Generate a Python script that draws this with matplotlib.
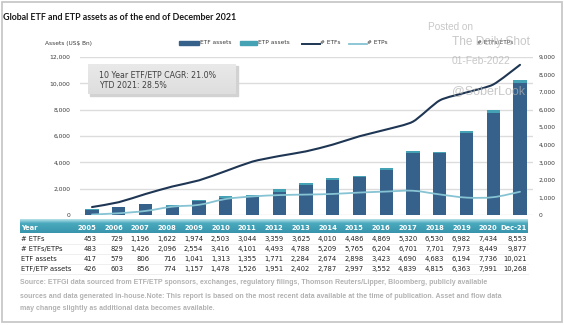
import numpy as np
import matplotlib
matplotlib.use("Agg")
import matplotlib.pyplot as plt
import matplotlib.transforms as mtransforms
from matplotlib.patches import Rectangle, PathPatch
from matplotlib.path import Path
from matplotlib.lines import Line2D

# ---- data -------------------------------------------------------------
years = ["2005", "2006", "2007", "2008", "2009", "2010", "2011", "2012", "2013",
         "2014", "2015", "2016", "2017", "2018", "2019", "2020", "Dec-21"]
n_etfs = [453, 729, 1196, 1622, 1974, 2503, 3044, 3359, 3625, 4010, 4486,
          4869, 5320, 6530, 6982, 7434, 8553]
n_etfs_etps = [483, 829, 1426, 2096, 2554, 3416, 4101, 4493, 4788, 5209, 5765,
               6204, 6701, 7701, 7973, 8449, 9877]
etf_assets = [417, 579, 806, 716, 1041, 1313, 1355, 1771, 2284, 2674, 2898,
              3423, 4690, 4683, 6194, 7736, 10021]
etf_etp_assets = [426, 603, 856, 774, 1157, 1478, 1526, 1951, 2402, 2787, 2997,
                  3552, 4839, 4815, 6363, 7991, 10268]
assets_ticks = [0, 2000, 4000, 6000, 8000, 10000, 12000]
count_ticks = [0, 1000, 2000, 3000, 4000, 5000, 6000, 7000, 8000, 9000]

row_labels = ["# ETFs", "# ETFs/ETPs", "ETF assets", "ETF/ETP assets"]
table_rows = [n_etfs, n_etfs_etps, etf_assets, etf_etp_assets]

etp_assets = np.array(etf_etp_assets) - np.array(etf_assets)
n_etps = np.array(n_etfs_etps) - np.array(n_etfs)
x = np.arange(len(years))

# ---- colours ----------------------------------------------------------
C_ETF = "#35618a"
C_ETP = "#45a1b4"
C_LINE_ETF = "#1e3653"
C_LINE_ETP = "#86c3d3"
C_GRID = "#dcdcdc"
C_TXT = "#3a3a3a"

W, H = 564, 325
fig = plt.figure(figsize=(W / 100, H / 100), dpi=100)
fig.patch.set_facecolor("white")


def fx(px):
    return px / W


def fy(py):
    return 1 - py / H


# ---- main chart -------------------------------------------------------
ax = fig.add_axes([fx(80), fy(215), fx(533) - fx(80), fy(57) - fy(215)])
ax.set_xlim(-0.449, 16.486)
ax.set_ylim(0, 12000)
ax.bar(x, etf_assets, width=0.5, color=C_ETF, zorder=2)
ax.bar(x, etp_assets, width=0.5, bottom=etf_assets, color=C_ETP, zorder=2)
ax.set_yticks(assets_ticks)
ax.set_yticklabels([f"{v:,}" for v in assets_ticks])
ax.yaxis.grid(True, color=C_GRID, lw=1.0)
ax.set_axisbelow(True)
ax.set_xticks([])
for s in ax.spines.values():
    s.set_visible(False)
ax.tick_params(axis="y", length=0, pad=7, labelsize=4.3, labelcolor=C_TXT)
ax.patch.set_alpha(0)

ax2 = ax.twinx()
ax2.set_ylim(0, 9000)
ax2.set_yticks(count_ticks)
ax2.set_yticklabels([f"{v:,}" for v in count_ticks])
for s in ax2.spines.values():
    s.set_visible(False)
ax2.tick_params(axis="y", length=0, pad=4, labelsize=4.3, labelcolor=C_TXT)


def smooth_path(xs, ys, tension=1 / 6):
    pts = np.column_stack([xs, ys]).astype(float)
    verts = [pts[0]]
    codes = [Path.MOVETO]
    for i in range(len(pts) - 1):
        p0 = pts[i - 1] if i > 0 else pts[i]
        p1, p2 = pts[i], pts[i + 1]
        p3 = pts[i + 2] if i + 2 < len(pts) else pts[i + 1]
        verts += [p1 + (p2 - p0) * tension, p2 - (p3 - p1) * tension, p2]
        codes += [Path.CURVE4] * 3
    return Path(verts, codes)


ax2.add_patch(PathPatch(smooth_path(x, n_etfs, 1 / 9), fill=False, edgecolor=C_LINE_ETF,
                        lw=1.5, zorder=4, capstyle="round"))
ax2.add_patch(PathPatch(smooth_path(x, n_etps), fill=False, edgecolor=C_LINE_ETP,
                        lw=1.3, zorder=4, capstyle="round"))

# ---- overlay in pixel coordinates ------------------------------------
ov = fig.add_axes([0, 0, 1, 1])
ov.set_xlim(0, W)
ov.set_ylim(H, 0)
ov.axis("off")
ov.patch.set_alpha(0)

# outer frame
ov.add_patch(Rectangle((1.5, 1.5), 560.5, 320.5, fill=False, edgecolor="#c4c4c4", lw=1.2))

title = ov.text(3, 17, "Global ETF and ETP assets as of the end of December 2021",
                fontsize=7.5, fontweight="bold", family="Lato", color="#1a1a1a",
                va="center")
# fit the title to its line width
fig.canvas.draw()
tw = title.get_window_extent().width
title.set_fontsize(7.5 * 234 / tw)

ov.text(45, 43, "Assets (US$ Bn)", fontsize=4.2, color=C_TXT, va="center")
ov.text(477, 41.5, "# ETFs/ETPs", fontsize=4.2, color=C_TXT, va="center")

# legend
ov.add_patch(Rectangle((179, 41.3), 20, 3.4, color=C_ETF))
ov.text(200, 43, "ETF assets", fontsize=4.2, color=C_TXT, va="center")
ov.add_patch(Rectangle((240, 41.3), 17, 3.4, color=C_ETP))
ov.text(258, 43, "ETP assets", fontsize=4.2, color=C_TXT, va="center")
ov.add_line(Line2D([302, 320], [43.5, 43.5], color=C_LINE_ETF, lw=1.4))
ov.text(320, 43, "# ETFs", fontsize=4.2, color=C_TXT, va="center")
ov.add_line(Line2D([349, 367], [43.5, 43.5], color=C_LINE_ETP, lw=1.3))
ov.text(367, 43, "# ETPs", fontsize=4.2, color=C_TXT, va="center")

# CAGR box
ov.add_patch(Rectangle((89.5, 65.5), 148, 30, color="#d2d2d2", zorder=1))
grad = np.linspace(0, 1, 50).reshape(-1, 1)
ov.imshow(grad, cmap=matplotlib.colors.LinearSegmentedColormap.from_list(
    "box", ["#e9e9e9", "#dedede"]), extent=(88, 236, 94, 64), aspect="auto", zorder=2)
ov.text(99, 74.5, "10 Year ETF/ETP CAGR: 21.0%", fontsize=5.7, color="#404040",
        va="center", zorder=3)
ov.text(99, 85, "YTD 2021: 28.5%", fontsize=5.7, color="#404040", va="center", zorder=3)

# watermark
wm = dict(color="#b0b0b0", alpha=0.7, family="Liberation Sans", zorder=10)
ov.text(428, 27, "Posted on", fontsize=7.2, va="center", **wm)
ov.text(452, 42, "The Daily Shot", fontsize=8.6, va="center", **wm)
ov.text(452, 60.5, "01-Feb-2022", fontsize=7.4, va="center", **wm)
ov.text(452, 91, "@SoberLook", fontsize=9.0, va="center", **wm)

# ---- data table -------------------------------------------------------
hdr = np.linspace(0, 1, 60).reshape(-1, 1)
ov.imshow(hdr, cmap=matplotlib.colors.LinearSegmentedColormap.from_list(
    "hdr", [(0, "#b9e2ea"), (0.3, "#49a9bd"), (1, "#3895ab")]),
    extent=(20, 528, 233, 219.5), aspect="auto", zorder=1)

col_tr = mtransforms.blended_transform_factory(ax.transData, ov.transData)
col_x = [i + 0.16 for i in x[:-1]] + [x[-1] + 0.27]

ov.text(21, 227.5, "Year", fontsize=4.9, fontweight="bold", color="white",
        va="center", zorder=3)
for cx, yr in zip(col_x, years):
    ov.text(cx, 227.5, yr, transform=col_tr, fontsize=4.9, fontweight="bold",
            color="white", ha="right", va="center", zorder=3)

row_y = [239, 249, 259, 269]
for ry, lab, vals in zip(row_y, row_labels, table_rows):
    ov.text(21, ry, lab, fontsize=4.9, color="#222222", va="center")
    for cx, v in zip(col_x, vals):
        ov.text(cx, ry, f"{v:,}", transform=col_tr, fontsize=4.9, color="#222222",
                ha="right", va="center")
    ov.add_line(Line2D([20, 528], [ry + 5, ry + 5], color="#ececec", lw=0.6))

src = dict(fontsize=5.0, color="#b2b2b2", fontweight="bold", family="Liberation Sans",
           va="center")
ov.text(20, 283, "Source: ETFGI data sourced from ETF/ETP sponsors, exchanges, regulatory "
        "filings, Thomson Reuters/Lipper, Bloomberg, publicly available", **src)
ov.text(20, 296, "sources and data generated in-house.Note: This report is based on the most "
        "recent data available at the time of publication. Asset and flow data", **src)
ov.text(20, 309, "may change slightly as additional data becomes available.", **src)

fig.savefig("out.png", dpi=100, facecolor="white")
